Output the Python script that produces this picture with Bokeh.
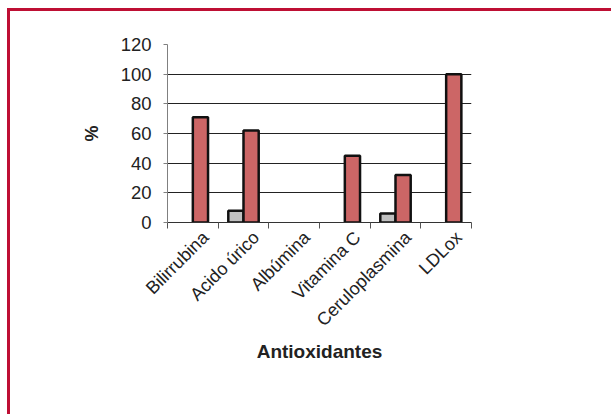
import math
from bokeh.plotting import figure
from bokeh.models import (FactorRange, Range1d, LinearAxis, FixedTicker,
                          ColumnDataSource, Legend, LegendItem)
from bokeh.transform import dodge
from bokeh.embed import file_html
from bokeh.resources import INLINE

categories = ["Bilirrubina", "Acido úrico", "Albúmina", "Vitamina C", "Ceruloplasmina", "LDLox"]
grupo_control = [0, 8, 0, 0, 6, 0]
grupo_estudio = [71, 62, 0, 45, 32, 100]
y_ticks = [0, 20, 40, 60, 80, 100, 120]
series_names = ["Grupo control", "Grupo estudio"]

FONT = "Liberation Sans"
RED = "#CC6666"
GREY = "#C0C0C0"
TXT = "#222222"

n = len(categories)
cat_range = FactorRange(factors=categories)
p = figure(width=604, height=403, x_range=cat_range,
           y_range=Range1d(y_ticks[0], y_ticks[-1]), x_axis_type=None,
           output_backend="svg", toolbar_location=None,
           min_border_left=157, min_border_right=143, min_border_top=33, min_border_bottom=40)
p.frame_width = 304
p.frame_height = 178
p.margin = (11, 0, 0, 10)
p.styles = {"box-shadow": "-3px -3px 0 0 #BE0F34"}
p.outline_line_color = None
p.ygrid.grid_line_color = "#222222"
p.ygrid.ticker = FixedTicker(ticks=y_ticks)
p.xgrid.visible = False

# y axis
p.yaxis.ticker = FixedTicker(ticks=y_ticks)
p.yaxis.axis_label = "%"
p.yaxis.axis_label_text_font = FONT
p.yaxis.axis_label_text_font_style = "bold"
p.yaxis.axis_label_text_font_size = "18px"
p.yaxis.axis_label_text_color = TXT
p.yaxis.axis_label_standoff = 16
p.yaxis.major_label_text_font = FONT
p.yaxis.major_label_text_font_size = "18.5px"
p.yaxis.major_label_text_color = TXT
p.yaxis.major_label_standoff = 12
p.yaxis.axis_line_color = "#808080"
p.yaxis.major_tick_line_color = "#808080"
p.yaxis.major_tick_out = 4
p.yaxis.major_tick_in = 0
p.yaxis.minor_tick_line_color = None

# x axis: labels slightly right of category centres (Excel style), ticks on boundaries
label_pos = [i + 0.75 for i in range(n)]
boundaries = [float(i) for i in range(n + 1)]
xax = LinearAxis(ticker=FixedTicker(ticks=label_pos, minor_ticks=boundaries))
xax.major_label_overrides = {pos: name for pos, name in zip(label_pos, categories)}
xax.major_label_orientation = math.pi / 4
xax.major_label_text_font = FONT
xax.major_label_text_font_size = "18px"
xax.major_label_text_color = TXT
xax.major_label_standoff = 6
xax.major_tick_line_color = None
xax.major_tick_out = 0
xax.major_tick_in = 0
xax.minor_tick_line_color = "#555555"
xax.minor_tick_out = 6
xax.minor_tick_in = 0
xax.axis_line_color = "#333333"
xax.axis_label = "Antioxidantes"
xax.axis_label_text_font = FONT
xax.axis_label_text_font_style = "bold"
xax.axis_label_text_font_size = "19px"
xax.axis_label_text_color = TXT
xax.axis_label_standoff = 1
p.add_layout(xax, "below")

def nonzero(vals):
    idx = [i for i, v in enumerate(vals) if v > 0]
    return ColumnDataSource(dict(x=[categories[i] for i in idx], top=[vals[i] for i in idx]))

src_c = nonzero(grupo_control)
src_e = nonzero(grupo_estudio)

bw = 0.3
rc = p.vbar(x=dodge("x", -bw / 2, range=cat_range), top="top", bottom=0, width=bw,
            source=src_c, fill_color=GREY, line_color="#111111", line_width=2.5)
re = p.vbar(x=dodge("x", bw / 2, range=cat_range), top="top", bottom=0, width=bw,
            source=src_e, fill_color=RED, line_color="#111111", line_width=2.5)

legend = Legend(items=[LegendItem(label=series_names[0], renderers=[rc]),
                       LegendItem(label=series_names[1], renderers=[re])],
                orientation="horizontal", location="center")
legend.label_text_font = FONT
legend.label_text_font_style = "bold"
legend.label_text_font_size = "19px"
legend.label_text_color = TXT
legend.glyph_width = 16
legend.glyph_height = 16
legend.label_standoff = 7
legend.spacing = 12
legend.padding = 9
legend.margin = 6
legend.border_line_color = "#808080"
legend.border_line_width = 1
legend.background_fill_color = "white"
p.add_layout(legend, "below")

open("out.html", "w").write(file_html(p, INLINE))
